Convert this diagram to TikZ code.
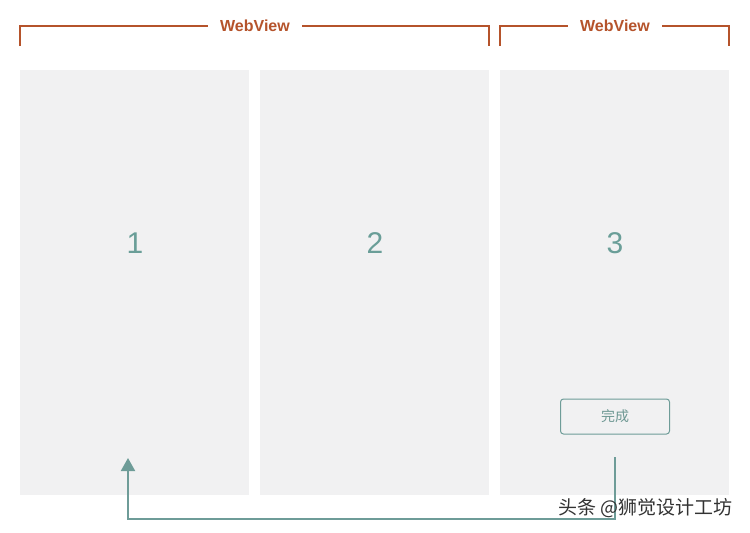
\documentclass[tikz,border=0pt]{standalone}
\usepackage{fontspec}
\setmainfont{Liberation Sans}
\newfontfamily\cjk{Noto Sans CJK SC}
\usetikzlibrary{arrows.meta}
\definecolor{webred}{HTML}{B5532B}
\definecolor{panelgray}{HTML}{F1F1F2}
\definecolor{tealline}{HTML}{6E9C98}
\definecolor{tealnum}{HTML}{6A9E98}
\begin{document}
\begin{tikzpicture}[x=1pt,y=-1pt,
    panel/.style={fill=panelgray,minimum width=229pt,minimum height=425pt,anchor=north west,inner sep=0pt},
    num/.style={text=tealnum,font=\fontsize{30}{30}\selectfont},
    tag/.style={text=webred,inner xsep=12pt,font=\bfseries\fontsize{16}{16}\selectfont}]
    \useasboundingbox (0,0) rectangle (750,533);
    % panels
    \node[panel] (P1) at (20,70) {};
    \node[panel] (P2) at (260,70) {};
    \node[panel] (P3) at (500,70) {};
    \node[num] (N1) at (135,243) {1};
    \node[num] (N2) at (375,243) {2};
    \node[num] (N3) at (615,243) {3};
    % brackets
    \node[tag] (W1) at (255,26) {WebView};
    \node[tag] (W2) at (615,26) {WebView};
    \draw[webred,line width=1.6pt] (20,46) |- (W1.west);
    \draw[webred,line width=1.6pt] (W1.east) -| (489,46);
    \draw[webred,line width=1.6pt] (500,46) |- (W2.west);
    \draw[webred,line width=1.6pt] (W2.east) -| (729,46);
    % button and back arrow
    \node[draw=tealline,line width=1pt,rounded corners=3pt,minimum width=109pt,minimum height=35pt,text=tealnum!80!gray,font=\cjk\fontsize{14}{14}\selectfont] (done) at (615,416.5) {完成};
    \coordinate (from) at (615,457);
    \coordinate (turn) at (615,519);
    \coordinate (to) at (128,458);
    \draw[tealline,line width=2pt,-{Triangle[width=14pt,length=13pt]}] (from) -- (turn) -| (to);
    \node[anchor=east,text=black!80,font=\cjk\fontsize{19}{19}\selectfont] (mark) at (736,508) {头条 @狮觉设计工坊};
\end{tikzpicture}
\end{document}
